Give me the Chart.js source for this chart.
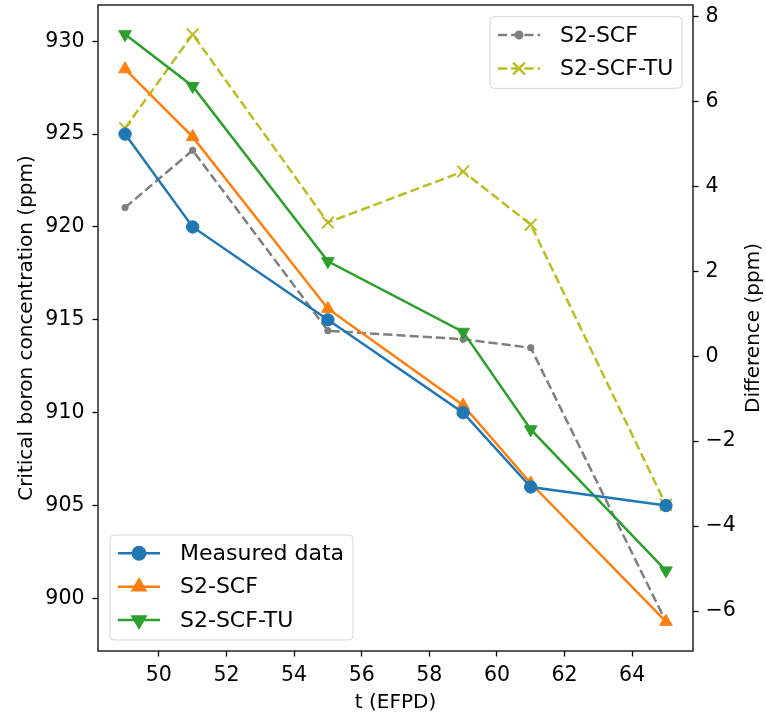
<!DOCTYPE html>
<html>
<head>
<meta charset="utf-8">
<script src="https://cdn.jsdelivr.net/npm/chart.js@4.4.1/dist/chart.umd.min.js"></script>
<style>
  html, body { margin: 0; padding: 0; background: #fff; }
  canvas { display: block; }
</style>
</head>
<body>
<canvas id="myChart" width="766" height="716"></canvas>
<script>
const days = [49, 51, 55, 59, 61, 65];
const measured = [925, 920, 915, 910, 906, 905];
const scf = [928.5, 924.85, 915.6, 910.4, 906.2, 898.75];
const scfTu = [930.37, 927.58, 918.15, 914.35, 909.1, 901.5];
const diffScf = [3.5, 4.85, 0.6, 0.4, 0.2, -6.25];
const diffScfTu = [5.37, 7.58, 3.15, 4.35, 3.1, -3.5];

const xTicks = [50, 52, 54, 56, 58, 60, 62, 64];
const leftTicks = [900, 905, 910, 915, 920, 925, 930];
const rightTicks = [-6, -4, -2, 0, 2, 4, 6, 8];

const ctx = document.getElementById('myChart');
const FONT = "'DejaVu Sans', sans-serif";
Chart.defaults.font.family = FONT;
Chart.defaults.font.size = 20;
Chart.defaults.color = '#000';

// matplotlib style 5% margins
function pad(...arrs) {
  const all = [].concat(...arrs);
  const lo = Math.min(...all), hi = Math.max(...all);
  const r = hi - lo;
  return [lo - 0.05 * r, hi + 0.05 * r];
}
const xLim = pad(days);
const yLim = pad(measured, scf, scfTu);
const y2Lim = pad(diffScf, diffScfTu);

const pts = (vals) => days.map((d, i) => ({ x: d, y: vals[i] }));
const dash = [9.2, 4];
const LW = 2.5;

const tickGrid = { drawOnChartArea: false, tickLength: 5.5, tickColor: '#000', tickWidth: 1.3 };
const noPad = s => { s.paddingTop = 0; s.paddingBottom = 0; s.paddingLeft = 0; s.paddingRight = 0; };

function drawLegend(c, box, sets) {
  c.save();
  c.beginPath();
  c.roundRect(box.x, box.y, box.w, box.h, 4);
  c.fillStyle = 'rgba(255,255,255,0.8)';
  c.fill();
  c.strokeStyle = 'rgba(204,204,204,0.8)';
  c.lineWidth = 1;
  c.stroke();
  sets.forEach((ds, i) => {
    const y = box.y + 18.3 + i * 33.4;
    c.beginPath();
    c.setLineDash(ds.borderDash || []);
    c.strokeStyle = ds.borderColor;
    c.lineWidth = ds.borderWidth;
    c.moveTo(box.x + 8, y);
    c.lineTo(box.x + 50, y);
    c.stroke();
    c.setLineDash([]);
    c.fillStyle = ds.pointBackgroundColor;
    c.strokeStyle = ds.pointBorderColor;
    Chart.helpers.drawPoint(c, {
      pointStyle: ds.pointStyle, radius: ds.pointRadius,
      rotation: ds.pointRotation || 0, borderWidth: ds.pointBorderWidth
    }, box.x + 29, y);
    c.fillStyle = '#000';
    c.font = '22px ' + FONT;
    c.textAlign = 'left';
    c.textBaseline = 'middle';
    c.fillText(ds.label, box.x + 70, y + 1);
  });
  c.restore();
}

const extras = {
  id: 'extras',
  afterDraw(chart) {
    const c = chart.ctx, a = chart.chartArea;
    c.save();
    c.strokeStyle = '#000';
    c.lineWidth = 1.3;
    c.strokeRect(a.left, a.top, a.right - a.left, a.bottom - a.top);
    c.translate(754, (a.top + a.bottom) / 2);
    c.rotate(-Math.PI / 2);
    c.font = '20px ' + FONT;
    c.fillStyle = '#000';
    c.textAlign = 'center';
    c.textBaseline = 'middle';
    c.fillText('Difference (ppm)', 0, 0);
    c.restore();
    const sets = chart.data.datasets;
    drawLegend(c, { x: 110, y: 535, w: 243, h: 105 }, sets.filter(d => d.yAxisID === 'y'));
    drawLegend(c, { x: 490, y: 16.7, w: 192, h: 71.6 }, sets.filter(d => d.yAxisID === 'y2'));
  }
};

new Chart(ctx, {
  type: 'line',
  data: {
    datasets: [
      {
        label: 'Measured data', data: pts(measured), yAxisID: 'y', order: 0,
        borderColor: '#1f77b4', borderWidth: LW,
        pointStyle: 'circle', pointRadius: 6.2, pointBorderWidth: 1,
        pointBackgroundColor: '#1f77b4', pointBorderColor: '#1f77b4'
      },
      {
        label: 'S2-SCF', data: pts(scf), yAxisID: 'y', order: 1,
        borderColor: '#ff7f0e', borderWidth: LW,
        pointStyle: 'triangle', pointRadius: 7.3, pointBorderWidth: 1,
        pointBackgroundColor: '#ff7f0e', pointBorderColor: '#ff7f0e'
      },
      {
        label: 'S2-SCF-TU', data: pts(scfTu), yAxisID: 'y', order: 2,
        borderColor: '#2ca02c', borderWidth: LW,
        pointStyle: 'triangle', pointRotation: 180, pointRadius: 7.3, pointBorderWidth: 1,
        pointBackgroundColor: '#2ca02c', pointBorderColor: '#2ca02c'
      },
      {
        label: 'S2-SCF', data: pts(diffScf), yAxisID: 'y2', order: 3,
        borderColor: '#7f7f7f', borderWidth: LW, borderDash: dash,
        pointStyle: 'circle', pointRadius: 3.2, pointBorderWidth: 1,
        pointBackgroundColor: '#7f7f7f', pointBorderColor: '#7f7f7f'
      },
      {
        label: 'S2-SCF-TU', data: pts(diffScfTu), yAxisID: 'y2', order: 4,
        borderColor: '#bcbd22', borderWidth: LW, borderDash: dash,
        pointStyle: 'crossRot', pointRadius: 8.3, pointBorderWidth: 2,
        pointBackgroundColor: '#bcbd22', pointBorderColor: '#bcbd22'
      }
    ]
  },
  options: {
    responsive: false,
    animation: false,
    layout: { autoPadding: false, padding: { top: 5, left: 0, right: 0, bottom: 0 } },
    plugins: { legend: { display: false }, tooltip: { enabled: false } },
    elements: { line: { tension: 0 } },
    scales: {
      x: {
        type: 'linear', min: xLim[0], max: xLim[1],
        afterBuildTicks: s => { s.ticks = xTicks.map(v => ({ value: v })); },
        afterFit: s => { s.height = 65; noPad(s); },
        grid: tickGrid, border: { display: false },
        ticks: { padding: 7, color: '#000', font: { size: 20.5 } },
        title: { display: true, text: 't (EFPD)', padding: { top: 0, bottom: 1 } }
      },
      y: {
        type: 'linear', position: 'left', min: yLim[0], max: yLim[1],
        afterBuildTicks: s => { s.ticks = leftTicks.map(v => ({ value: v })); },
        afterFit: s => { s.width = 98; noPad(s); },
        grid: tickGrid, border: { display: false },
        ticks: { padding: 8, color: '#000', font: { size: 20.5 } },
        title: { display: true, text: 'Critical boron concentration (ppm)', padding: { top: 15 } }
      },
      y2: {
        type: 'linear', position: 'right', min: y2Lim[0], max: y2Lim[1],
        afterBuildTicks: s => { s.ticks = rightTicks.map(v => ({ value: v })); },
        afterFit: s => { s.width = 73; noPad(s); },
        grid: tickGrid, border: { display: false },
        ticks: { padding: 7, color: '#000', font: { size: 20.5 },
          callback: v => (v < 0 ? '\u2212' + Math.abs(v) : String(v)) }
      }
    }
  },
  plugins: [extras]
});
</script>
</body>
</html>
